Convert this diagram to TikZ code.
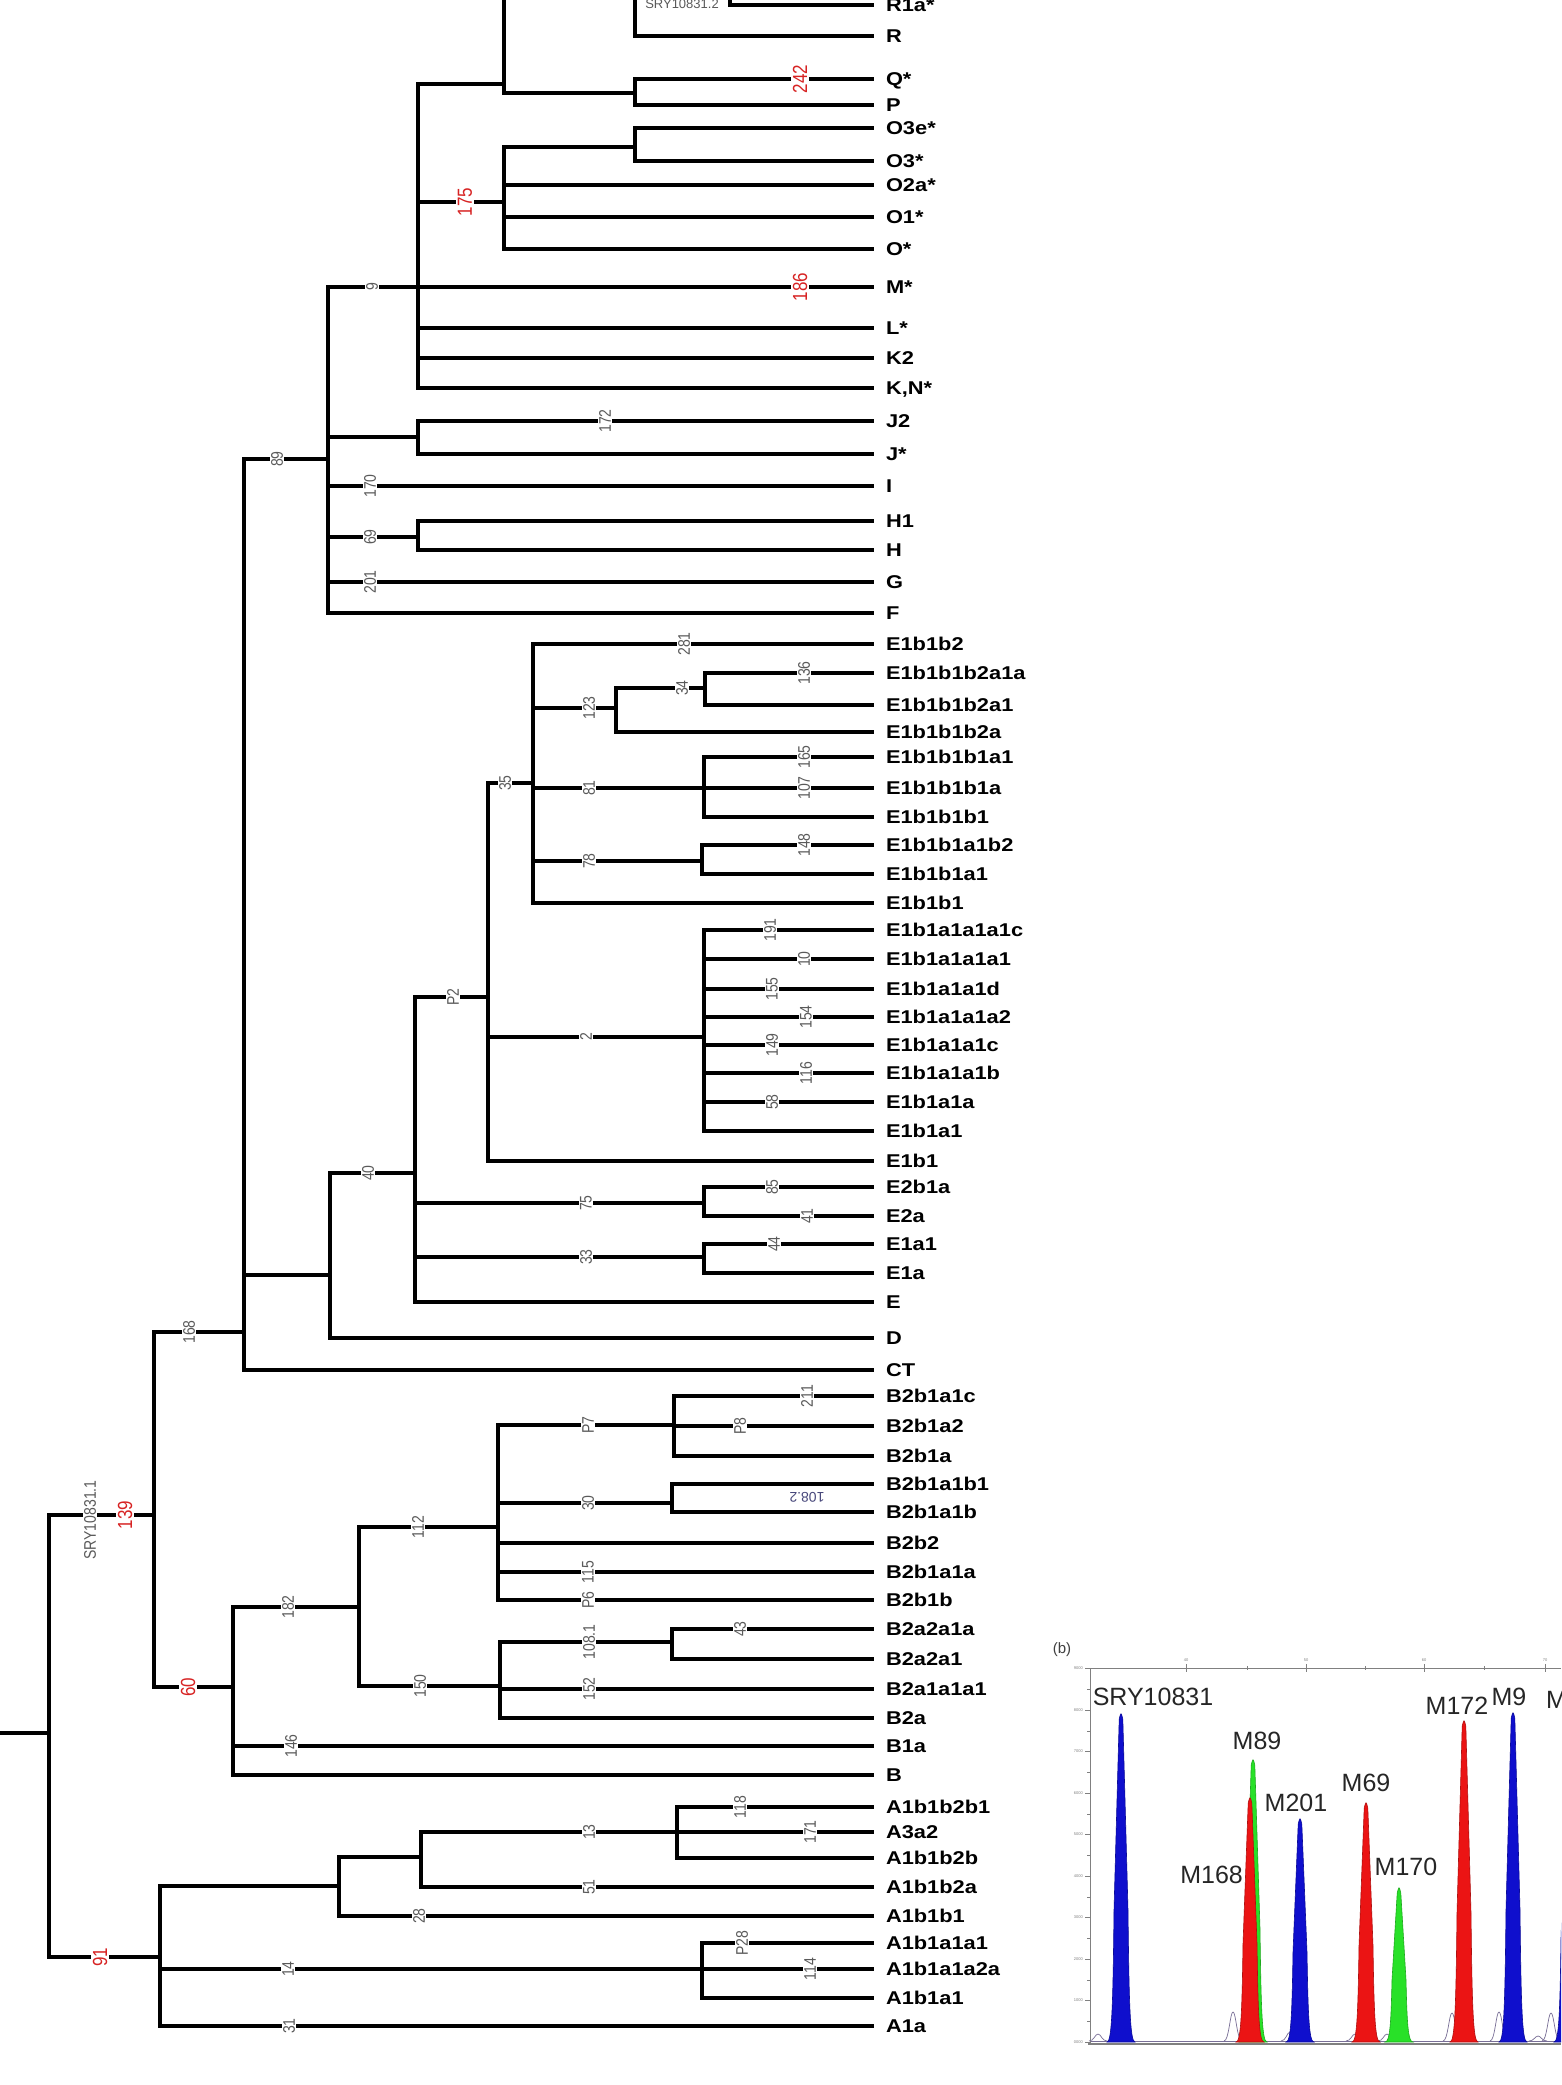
\documentclass[tikz,border=0pt]{standalone}
\usepackage{fontspec}
\setmainfont{Liberation Sans}
\usepackage{graphicx}
\definecolor{labgray}{RGB}{90,90,90}
\definecolor{labred}{RGB}{215,35,35}
\definecolor{pblue}{RGB}{15,15,205}
\definecolor{pred}{RGB}{235,20,20}
\definecolor{pgreen}{RGB}{40,225,40}
\definecolor{trace}{RGB}{120,110,150}
\newcommand\lf[1]{\scalebox{1.18}[1]{#1}}
\newcommand\nm[1]{\scalebox{1}[1.2]{#1}}
\newcommand\mypeak[3]{%
  \pgfmathsetmacro\pkH{2042-#3}%
  \filldraw[fill=#1, draw=#1!75!black, line width=0.6pt]
   ({#2-14},2042) .. controls ({#2-9},2042) and ({#2-8},{2042-0.12*\pkH}) .. ({#2-7},{2042-0.4*\pkH})
   -- ({#2-1.8},{#3+6}) .. controls ({#2},{#3-1}) .. ({#2+1.8},{#3+6})
   -- ({#2+7},{2042-0.4*\pkH}) .. controls ({#2+8},{2042-0.12*\pkH}) and ({#2+9},2042) .. ({#2+14},2042) -- cycle;}
\newcommand\bump[3]{%
  \draw[trace, line width=0.7pt] ({#2-9},2041) .. controls ({#2-4},2041) and ({#2-3},#3) .. ({#2},#3) .. controls ({#2+3},#3) and ({#2+4},2041) .. ({#2+9},2041);}
\tikzset{
  br/.style={line width=4.5pt, line cap=rect, line join=miter},
  leaf/.style={anchor=west, inner sep=0pt, outer xsep=14pt, font=\bfseries\fontsize{18.5}{18.5}\selectfont, text height=13pt, text depth=0pt},
  nl/.style={fill=white, inner xsep=1pt, inner ysep=1.5pt, rotate=90, text=labgray, font=\fontsize{14}{14}\selectfont},
  rl/.style={fill=white, inner xsep=1pt, inner ysep=1.5pt, rotate=90, text=labred, font=\fontsize{17}{17}\selectfont},
  pl/.style={inner sep=0pt, font=\fontsize{25}{25}\selectfont, text=black!85},
  tk/.style={inner sep=0pt, font=\fontsize{4}{4}\selectfont, text=gray},
}
\begin{document}
\begin{tikzpicture}[x=1pt,y=-1pt]
\useasboundingbox (0,0) rectangle (1561,2085);
\clip (0,0) rectangle (1561,2085);
\fill[white] (0,0) rectangle (1561,2085);

% ---------- internal nodes ----------
\coordinate (nR1a) at (730,-8);
\coordinate (nR) at (635,-20);
\coordinate (nQP) at (635,93);
\coordinate (nRQP) at (504,84);
\coordinate (nO3) at (635,147);
\coordinate (nO) at (504,202);
\coordinate (nK) at (418,287);
\coordinate (nJ) at (418,437);
\coordinate (nH) at (418,537);
\coordinate (n89) at (328,459);
\coordinate (nCT) at (244,1332);
\coordinate (nDE) at (330,1275);
\coordinate (n40) at (415,1173);
\coordinate (nP2) at (488,997);
\coordinate (nE1b1b) at (533,783);
\coordinate (n123) at (616,708);
\coordinate (n34) at (705,688);
\coordinate (n81) at (704,788);
\coordinate (n78) at (702,861);
\coordinate (n2) at (704,1037);
\coordinate (n75) at (704,1203);
\coordinate (n33) at (704,1257);
\coordinate (n139) at (154,1515);
\coordinate (n60) at (233,1687);
\coordinate (n182) at (359,1607);
\coordinate (n112) at (498,1527);
\coordinate (nP7) at (674,1425);
\coordinate (n30) at (672,1503);
\coordinate (n150) at (500,1686);
\coordinate (n108) at (672,1642);
\coordinate (nRoot) at (49,1733);
\coordinate (rootIn) at (-5,1733);
\coordinate (n91) at (160,1957);
\coordinate (nA1b1b) at (339,1886);
\coordinate (n13) at (421,1857);
\coordinate (nA118) at (677,1832);
\coordinate (n14) at (702,1969);

% ---------- leaves ----------
\node[leaf] (lR1a) at (872,5) {\lf{R1a*}};
\node[leaf] (lR) at (872,36) {\lf{R}};
\node[leaf] (lQ) at (872,79) {\lf{Q*}};
\node[leaf] (lP) at (872,105) {\lf{P}};
\node[leaf] (lO3e) at (872,128) {\lf{O3e*}};
\node[leaf] (lO3) at (872,161) {\lf{O3*}};
\node[leaf] (lO2a) at (872,185) {\lf{O2a*}};
\node[leaf] (lO1) at (872,217) {\lf{O1*}};
\node[leaf] (lO) at (872,249) {\lf{O*}};
\node[leaf] (lM) at (872,287) {\lf{M*}};
\node[leaf] (lL) at (872,328) {\lf{L*}};
\node[leaf] (lK2) at (872,358) {\lf{K2}};
\node[leaf] (lKN) at (872,388) {\lf{K,N*}};
\node[leaf] (lJ2) at (872,421) {\lf{J2}};
\node[leaf] (lJ) at (872,454) {\lf{J*}};
\node[leaf] (lI) at (872,486) {\lf{I}};
\node[leaf] (lH1) at (872,521) {\lf{H1}};
\node[leaf] (lH) at (872,550) {\lf{H}};
\node[leaf] (lG) at (872,582) {\lf{G}};
\node[leaf] (lF) at (872,613) {\lf{F}};
\node[leaf] (lE1b1b2) at (872,644) {\lf{E1b1b2}};
\node[leaf] (lE1b1b1b2a1a) at (872,673) {\lf{E1b1b1b2a1a}};
\node[leaf] (lE1b1b1b2a1) at (872,705) {\lf{E1b1b1b2a1}};
\node[leaf] (lE1b1b1b2a) at (872,732) {\lf{E1b1b1b2a}};
\node[leaf] (lE1b1b1b1a1) at (872,757) {\lf{E1b1b1b1a1}};
\node[leaf] (lE1b1b1b1a) at (872,788) {\lf{E1b1b1b1a}};
\node[leaf] (lE1b1b1b1) at (872,817) {\lf{E1b1b1b1}};
\node[leaf] (lE1b1b1a1b2) at (872,845) {\lf{E1b1b1a1b2}};
\node[leaf] (lE1b1b1a1) at (872,874) {\lf{E1b1b1a1}};
\node[leaf] (lE1b1b1) at (872,903) {\lf{E1b1b1}};
\node[leaf] (lE1b1a1a1a1c) at (872,930) {\lf{E1b1a1a1a1c}};
\node[leaf] (lE1b1a1a1a1) at (872,959) {\lf{E1b1a1a1a1}};
\node[leaf] (lE1b1a1a1d) at (872,989) {\lf{E1b1a1a1d}};
\node[leaf] (lE1b1a1a1a2) at (872,1017) {\lf{E1b1a1a1a2}};
\node[leaf] (lE1b1a1a1c) at (872,1045) {\lf{E1b1a1a1c}};
\node[leaf] (lE1b1a1a1b) at (872,1073) {\lf{E1b1a1a1b}};
\node[leaf] (lE1b1a1a) at (872,1102) {\lf{E1b1a1a}};
\node[leaf] (lE1b1a1) at (872,1131) {\lf{E1b1a1}};
\node[leaf] (lE1b1) at (872,1161) {\lf{E1b1}};
\node[leaf] (lE2b1a) at (872,1187) {\lf{E2b1a}};
\node[leaf] (lE2a) at (872,1216) {\lf{E2a}};
\node[leaf] (lE1a1) at (872,1244) {\lf{E1a1}};
\node[leaf] (lE1a) at (872,1273) {\lf{E1a}};
\node[leaf] (lE) at (872,1302) {\lf{E}};
\node[leaf] (lD) at (872,1338) {\lf{D}};
\node[leaf] (lCT) at (872,1370) {\lf{CT}};
\node[leaf] (lB2b1a1c) at (872,1396) {\lf{B2b1a1c}};
\node[leaf] (lB2b1a2) at (872,1426) {\lf{B2b1a2}};
\node[leaf] (lB2b1a) at (872,1456) {\lf{B2b1a}};
\node[leaf] (lB2b1a1b1) at (872,1484) {\lf{B2b1a1b1}};
\node[leaf] (lB2b1a1b) at (872,1512) {\lf{B2b1a1b}};
\node[leaf] (lB2b2) at (872,1543) {\lf{B2b2}};
\node[leaf] (lB2b1a1a) at (872,1572) {\lf{B2b1a1a}};
\node[leaf] (lB2b1b) at (872,1600) {\lf{B2b1b}};
\node[leaf] (lB2a2a1a) at (872,1629) {\lf{B2a2a1a}};
\node[leaf] (lB2a2a1) at (872,1659) {\lf{B2a2a1}};
\node[leaf] (lB2a1a1a1) at (872,1689) {\lf{B2a1a1a1}};
\node[leaf] (lB2a) at (872,1718) {\lf{B2a}};
\node[leaf] (lB1a) at (872,1746) {\lf{B1a}};
\node[leaf] (lB) at (872,1775) {\lf{B}};
\node[leaf] (lA1b1b2b1) at (872,1807) {\lf{A1b1b2b1}};
\node[leaf] (lA3a2) at (872,1832) {\lf{A3a2}};
\node[leaf] (lA1b1b2b) at (872,1858) {\lf{A1b1b2b}};
\node[leaf] (lA1b1b2a) at (872,1887) {\lf{A1b1b2a}};
\node[leaf] (lA1b1b1) at (872,1916) {\lf{A1b1b1}};
\node[leaf] (lA1b1a1a1) at (872,1943) {\lf{A1b1a1a1}};
\node[leaf] (lA1b1a1a2a) at (872,1969) {\lf{A1b1a1a2a}};
\node[leaf] (lA1b1a1) at (872,1998) {\lf{A1b1a1}};
\node[leaf] (lA1a) at (872,2026) {\lf{A1a}};

% ---------- branches ----------
\draw[br] (rootIn) -- (nRoot);
\foreach \p/\c in {
  nK/nRQP, nK/nO, nK/lM, nK/lL, nK/lK2, nK/lKN,
  nRQP/nR, nRQP/nQP, nR/nR1a, nR/lR, nR1a/lR1a, nQP/lQ, nQP/lP,
  nO/nO3, nO/lO2a, nO/lO1, nO/lO, nO3/lO3e, nO3/lO3,
  n89/nK, n89/nJ, n89/lI, n89/nH, n89/lG, n89/lF,
  nJ/lJ2, nJ/lJ, nH/lH1, nH/lH,
  nCT/n89, nCT/nDE, nCT/lCT, nDE/n40, nDE/lD,
  n40/nP2, n40/n75, n40/n33, n40/lE,
  nP2/nE1b1b, nP2/n2, nP2/lE1b1,
  nE1b1b/lE1b1b2, nE1b1b/n123, nE1b1b/n81, nE1b1b/n78, nE1b1b/lE1b1b1,
  n123/n34, n123/lE1b1b1b2a, n34/lE1b1b1b2a1a, n34/lE1b1b1b2a1,
  n81/lE1b1b1b1a1, n81/lE1b1b1b1a, n81/lE1b1b1b1,
  n78/lE1b1b1a1b2, n78/lE1b1b1a1,
  n2/lE1b1a1a1a1c, n2/lE1b1a1a1a1, n2/lE1b1a1a1d, n2/lE1b1a1a1a2,
  n2/lE1b1a1a1c, n2/lE1b1a1a1b, n2/lE1b1a1a, n2/lE1b1a1,
  n75/lE2b1a, n75/lE2a, n33/lE1a1, n33/lE1a,
  n139/nCT, n139/n60, n60/n182, n60/lB1a, n60/lB,
  n182/n112, n182/n150,
  n112/nP7, n112/n30, n112/lB2b2, n112/lB2b1a1a, n112/lB2b1b,
  nP7/lB2b1a1c, nP7/lB2b1a2, nP7/lB2b1a, n30/lB2b1a1b1, n30/lB2b1a1b,
  n150/n108, n150/lB2a1a1a1, n150/lB2a, n108/lB2a2a1a, n108/lB2a2a1,
  nRoot/n139, nRoot/n91,
  n91/nA1b1b, n91/n14, n91/lA1a, nA1b1b/n13, nA1b1b/lA1b1b1,
  n13/nA118, n13/lA1b1b2a,
  nA118/lA1b1b2b1, nA118/lA3a2, nA118/lA1b1b2b,
  n14/lA1b1a1a1, n14/lA1b1a1a2a, n14/lA1b1a1}
  \draw[br] (\p) |- (\c);

% ---------- branch labels ----------
\node[fill=white, inner sep=1pt, text=labgray, font=\fontsize{13}{13}\selectfont] (tSRY2) at (682,4) {SRY10831.2};
\node[rl] (t242) at (800,79) {\nm{242}};
\node[rl] (t175) at (465,202) {\nm{175}};
\node[rl] (t186) at (800,287) {\nm{186}};
\node[rl] (t139) at (125,1515) {\nm{139}};
\node[rl] (t60) at (188,1687) {\nm{60}};
\node[rl] (t91) at (100,1957) {\nm{91}};
\node[nl] (tSRY1) at (90,1520) {\nm{SRY10831.1}};
\foreach \n/\x/\y in {
  9/372/287, 172/605/421, 89/277/459, 170/370/486, 69/370/537, 201/370/582,
  281/684/644, 136/804/673, 34/682/688, 123/589/708, 165/804/757, 107/804/788,
  81/589/788, 35/505/783, 148/804/845, 78/589/861,
  191/770/930, 10/804/959, 155/772/989, 154/806/1017, 149/772/1045,
  116/806/1073, 58/772/1102, 2/586/1037, P2/453/997, 40/368/1173,
  85/772/1187, 41/807/1216, 75/586/1203, 44/774/1244, 33/586/1257,
  168/189/1332, 211/807/1396, P8/740/1426, P7/588/1425, 30/588/1503,
  112/418/1527, 115/588/1572, P6/588/1600, 182/288/1607, 108.1/589/1642,
  43/740/1629, 150/420/1686, 152/589/1689, 146/291/1746,
  118/740/1807, 13/589/1832, 171/810/1832, 51/589/1887, 28/419/1916,
  P28/742/1943, 14/288/1969, 114/810/1969, 31/289/2026}
  \node[nl] (t\n) at (\x,\y) {\nm{\n}};
\node[rotate=180, inner sep=0pt, text=labgray!80!blue, font=\fontsize{14}{14}\selectfont] (t1082) at (807,1497) {108.2};

% ---------- panel (b) ----------
\node[inner sep=0pt, text=black!75, font=\fontsize{15}{15}\selectfont] (bl) at (1062,1650) {(b)};
\draw[gray, line width=0.9pt] (1090,1668) -- (1561,1668);
\draw[gray, line width=0.9pt] (1090,1668) -- (1090,2044);
\draw[gray, line width=1.2pt] (1088,2044) -- (1561,2044);
\foreach \k in {0,...,9} {
  \pgfmathsetmacro\yy{2042-41.5*\k}
  \draw[gray, line width=0.6pt] (1085,\yy) -- (1090,\yy);
  \node[tk, anchor=east] at (1083,\yy) {\k000};
}
\foreach \k in {0,...,8} {
  \pgfmathsetmacro\yy{2021.25-41.5*\k}
  \draw[gray, line width=0.5pt] (1087,\yy) -- (1090,\yy);
}
\foreach \xx/\t in {1186/40, 1306/50, 1424/60, 1545/70} {
  \draw[gray, line width=0.6pt] (\xx,1664) -- (\xx,1672);
  \node[tk, anchor=south] at (\xx,1662) {\t};
}
\foreach \xx in {1247,1365,1484} \draw[gray, line width=0.5pt] (\xx,1666) -- (\xx,1670);
% trace
\draw[trace, line width=0.6pt] (1091,2041) -- (1561,2041);
\bump{trace}{1098}{2034}
\bump{trace}{1233}{2012}
\bump{trace}{1290}{2032}
\bump{trace}{1355}{2034}
\bump{trace}{1387}{2034}
\bump{trace}{1452}{2013}
\bump{trace}{1499}{2012}
\bump{trace}{1538}{2036}
\bump{trace}{1551}{2013}
% peaks
\mypeak{pblue}{1121}{1713}
\mypeak{pgreen}{1253}{1759}
\mypeak{pred}{1250}{1797}
\mypeak{pblue}{1300}{1818}
\mypeak{pred}{1366}{1802}
\mypeak{pgreen}{1399}{1887}
\mypeak{pred}{1464}{1720}
\mypeak{pblue}{1513}{1712}
\mypeak{pblue}{1568}{1782}
% peak labels
\node[pl] (pSRY) at (1153,1697) {SRY10831};
\node[pl, anchor=east] (pM168) at (1243,1875) {M168};
\node[pl] (pM89) at (1257,1741) {M89};
\node[pl] (pM201) at (1296,1803) {M201};
\node[pl] (pM69) at (1366,1783) {M69};
\node[pl] (pM170) at (1406,1867) {M170};
\node[pl] (pM172) at (1457,1706) {M172};
\node[pl] (pM9) at (1509,1697) {M9};
\node[pl, anchor=west] (pMx) at (1546,1700) {M};
\end{tikzpicture}
\end{document}
